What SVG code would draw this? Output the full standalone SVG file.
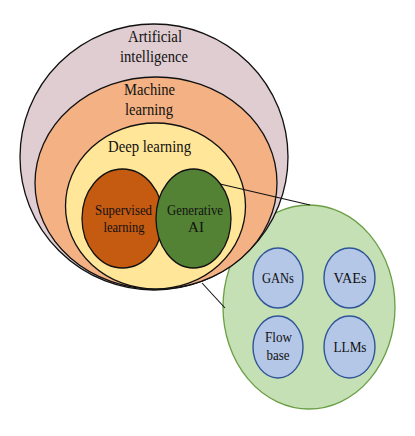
<svg xmlns="http://www.w3.org/2000/svg" width="415" height="436" viewBox="0 0 415 436">
<style>
text{font-family:"Liberation Serif","Times New Roman",serif;fill:#111;text-anchor:middle}
.big{font-size:17px}
.mid{font-size:15px}
.ring{stroke:#111;stroke-width:1.3}
.sub{fill:#B4C7E7;stroke:#2F5597;stroke-width:1.4}
.conn{stroke:#111;stroke-width:1.1;fill:none}
</style>
<rect width="415" height="436" fill="#fff"/>
<g id="genai-detail">
<ellipse cx="309" cy="307" rx="86" ry="102" fill="#C5E0B4" stroke="#6A9F45" stroke-width="1.3"/>
</g>
<g id="ai">
<ellipse class="ring" cx="154" cy="157" rx="134" ry="133" fill="#E0CDD1"/>
<text class="big" x="155" y="42" textLength="54" lengthAdjust="spacingAndGlyphs">Artificial</text>
<text class="big" x="154" y="62" textLength="68" lengthAdjust="spacingAndGlyphs">intelligence</text>
</g>
<g id="ml">
<ellipse class="ring" cx="156" cy="183" rx="121" ry="106" fill="#F4B183"/>
<text class="big" x="149.5" y="95" textLength="51" lengthAdjust="spacingAndGlyphs">Machine</text>
<text class="big" x="149" y="115" textLength="48" lengthAdjust="spacingAndGlyphs">learning</text>
</g>
<g id="dl">
<ellipse class="ring" cx="155.5" cy="206" rx="90" ry="83" fill="#FFE699"/>
<text class="big" x="149.5" y="152" textLength="83" lengthAdjust="spacingAndGlyphs">Deep learning</text>
</g>
<g id="supervised">
<ellipse class="ring" cx="122.5" cy="218.5" rx="40.5" ry="49.5" fill="#C55A11"/>
<text class="mid" x="123.5" y="215" textLength="57" lengthAdjust="spacingAndGlyphs">Supervised</text>
<text class="mid" x="124" y="232" textLength="41" lengthAdjust="spacingAndGlyphs">learning</text>
</g>
<g id="generative">
<ellipse class="ring" cx="193.5" cy="218.5" rx="37.5" ry="49.5" fill="#548235"/>
<text class="mid" x="195" y="215" textLength="56" lengthAdjust="spacingAndGlyphs">Generative</text>
<text class="mid" x="196" y="232">AI</text>
</g>
<g id="connectors">
<line class="conn" x1="220" y1="184" x2="310" y2="205"/>
<line class="conn" x1="202" y1="283" x2="225" y2="308"/>
</g>
<g id="gans">
<ellipse class="sub" cx="278" cy="278" rx="25" ry="30"/>
<text class="mid" x="278" y="283" textLength="32" lengthAdjust="spacingAndGlyphs">GANs</text>
</g>
<g id="vaes">
<ellipse class="sub" cx="349.5" cy="278" rx="25.5" ry="30"/>
<text class="mid" x="350" y="283" textLength="33" lengthAdjust="spacingAndGlyphs">VAEs</text>
</g>
<g id="flow">
<ellipse class="sub" cx="278" cy="347" rx="25" ry="31"/>
<text class="mid" x="278.5" y="342" textLength="27" lengthAdjust="spacingAndGlyphs">Flow</text>
<text class="mid" x="278" y="360" textLength="23" lengthAdjust="spacingAndGlyphs">base</text>
</g>
<g id="llms">
<ellipse class="sub" cx="349.5" cy="347" rx="25.5" ry="31"/>
<text class="mid" x="350" y="352" textLength="33" lengthAdjust="spacingAndGlyphs">LLMs</text>
</g>
</svg>
